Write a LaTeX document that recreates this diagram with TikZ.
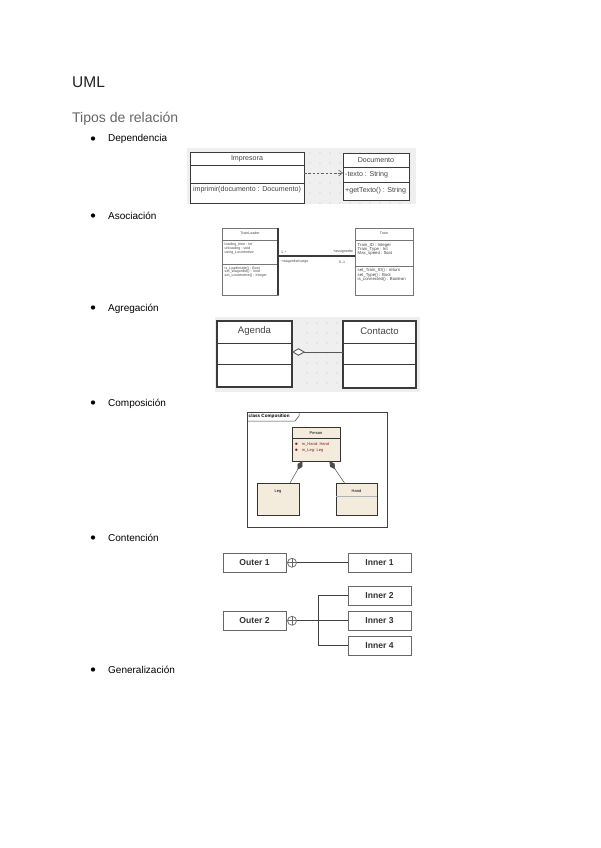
\documentclass[tikz,border=0pt]{standalone}
\usepackage{fontspec}
\setmainfont{Liberation Sans}
\usetikzlibrary{arrows.meta,calc,shadows}
\definecolor{titlec}{HTML}{222222}
\definecolor{subc}{HTML}{666666}
\definecolor{gridbg}{HTML}{EFEFEF}
\definecolor{dotc}{HTML}{C4C4C4}
\definecolor{umlc}{HTML}{3A3A3A}
\definecolor{txtc}{HTML}{444444}
\definecolor{beige}{HTML}{F3ECDD}
\definecolor{redt}{HTML}{8B1A1A}
\definecolor{contc}{HTML}{666666}
\tikzset{
  fsz/.style={font=\fontsize{#1}{#1}\selectfont},
  bulletdot/.style={circle,fill=black,inner sep=0pt,minimum size=4.3pt},
  itemtext/.style={anchor=base west,inner sep=0pt,fsz=10},
  box/.style={draw,anchor=north west,inner sep=0pt,outer sep=0pt},
  depbox/.style={box,draw=umlc,line width=0.8pt,fill=white},
  deptext/.style={inner sep=0pt,text=txtc,fsz=7.1},
  asbox/.style={box,draw=umlc!70,line width=0.5pt,fill=white},
  astext/.style={inner sep=0pt,text=txtc,fsz=3.6,align=left},
  agbox/.style={box,draw=umlc,line width=1.2pt,fill=white,
     general shadow={fill=black!25,shadow xshift=1pt,shadow yshift=-1pt}},
  agtext/.style={inner sep=0pt,text=txtc,fsz=9.6},
  cbox/.style={box,draw=black!80,line width=0.5pt,fill=beige,
     general shadow={fill=black!30,shadow xshift=1.2pt,shadow yshift=-1.2pt}},
  ctext/.style={inner sep=0pt,fsz=4},
  ctbox/.style={box,draw=contc,line width=0.8pt,fill=white,minimum width=63pt,minimum height=19.5pt,
     font=\fontsize{8.6}{9}\selectfont\bfseries,text=black!80},
  pluscirc/.style={circle,draw=contc,line width=0.7pt,fill=white,inner sep=0pt,minimum size=9pt,outer sep=0pt},
  ctline/.style={draw=black!75,line width=0.8pt},
}
\begin{document}
\begin{tikzpicture}[x=1pt,y=-1pt]
\useasboundingbox (0,0) rectangle (600,848);
\fill[white] (0,0) rectangle (600,848);

% headings
\node[anchor=base west,inner sep=0pt,text=titlec,fsz=15.5] (uml) at (72,88) {UML};
\node[anchor=base west,inner sep=0pt,text=subc,fsz=14] (tipos) at (72,123) {Tipos de relación};

% bullet items
\node[bulletdot] (b1) at (93,138.5) {};
\node[itemtext] (t1) at (108,142) {Dependencia};
\node[bulletdot] (b2) at (93,215.5) {};
\node[itemtext] (t2) at (108,219) {Asociación};
\node[bulletdot] (b3) at (93,307.5) {};
\node[itemtext] (t3) at (108,311) {Agregación};
\node[bulletdot] (b4) at (93,402.5) {};
\node[itemtext] (t4) at (108,406.5) {Composición};
\node[bulletdot] (b5) at (93,537.5) {};
\node[itemtext] (t5) at (108,541) {Contención};
\node[bulletdot] (b6) at (93,669.5) {};
\node[itemtext] (t6) at (108,673) {Generalización};

% ---------------- Dependencia ----------------
\fill[gridbg] (187,148) rectangle (416,204);
\foreach \x in {310,320,...,410} \foreach \y in {153,163,...,203} \fill[dotc] (\x,\y) circle (0.55);
\node[depbox,minimum width=114pt,minimum height=51pt] (imp) at (190,152) {};
\draw[umlc,line width=0.6pt] ([yshift=-13pt]imp.north west) -- ([yshift=-13pt]imp.north east);
\draw[umlc,line width=0.6pt] ([yshift=-31pt]imp.north west) -- ([yshift=-31pt]imp.north east);
\node[deptext] (impn) at ([yshift=-6.5pt]imp.north) {Impresora};
\node[deptext] (impm) at ([yshift=-38pt]imp.north) {imprimir(documento : Documento)};
\node[depbox,minimum width=66pt,minimum height=47pt,line width=1pt] (doc) at (343,153) {};
\draw[umlc,line width=0.6pt] ([yshift=-14pt]doc.north west) -- ([yshift=-14pt]doc.north east);
\draw[umlc,line width=0.6pt] ([yshift=-29pt]doc.north west) -- ([yshift=-29pt]doc.north east);
\node[deptext] (docn) at ([yshift=-7pt]doc.north) {Documento};
\node[deptext,anchor=west] (doca) at ([xshift=2pt,yshift=-21.5pt]doc.north west) {-texto : String};
\node[deptext,anchor=west] (docm) at ([xshift=2pt,yshift=-37.5pt]doc.north west) {+getTexto() : String};
\draw[umlc!80,dashed,dash pattern=on 2.5pt off 1.8pt,line width=0.6pt,-{Straight Barb[length=4pt,width=6pt]}]
  ([yshift=4.5pt]imp.east) -- ([yshift=4.5pt]imp.east -| doc.west);

% ---------------- Asociación ----------------
\node[asbox,minimum width=56pt,minimum height=67pt] (tl) at (222,228) {};
\draw[umlc!70,line width=0.5pt] ([yshift=-12pt]tl.north west) -- ([yshift=-12pt]tl.north east);
\draw[umlc!70,line width=0.5pt] ([yshift=-36pt]tl.north west) -- ([yshift=-36pt]tl.north east);
\draw[umlc,line width=1.4pt] (tl.north east) -- (tl.south east);
\node[astext] (tln) at ([yshift=-5.5pt]tl.north) {TrainLoader};
\node[astext,anchor=north west] (tla) at ([xshift=2.5pt,yshift=-15pt]tl.north west) {loading\_time : Int\\unloading : void\\using\_Locomotive};
\node[astext,anchor=north west] (tlm) at ([xshift=2.5pt,yshift=-38.5pt]tl.north west) {is\_Loadinside() : Bool\\set\_Wagonlist() : Void\\set\_Locomotive() : Integer};
\node[asbox,minimum width=58pt,minimum height=67pt] (tr) at (355,228) {};
\draw[umlc!70,line width=0.5pt] ([yshift=-12pt]tr.north west) -- ([yshift=-12pt]tr.north east);
\draw[umlc!70,line width=0.5pt] ([yshift=-38pt]tr.north west) -- ([yshift=-38pt]tr.north east);
\node[astext] (trn) at ([yshift=-5.5pt]tr.north) {Train};
\node[astext,fsz=4.3,anchor=north west] (tra) at ([xshift=2.5pt,yshift=-15pt]tr.north west) {Train\_ID : Integer\\Train\_Type : Int\\Max\_speed : float};
\node[astext,fsz=4.3,anchor=north west] (trm) at ([xshift=2.5pt,yshift=-40.5pt]tr.north west) {set\_Train\_ID() : return\\set\_Type() : Bool\\is\_connected() : Boolean};
\draw[umlc,line width=1.4pt] ([yshift=-28pt]tl.north east) -- ([yshift=-28pt]tl.north east -| tr.west);
\node[astext,anchor=west] (l1) at (281,252) {1..*};
\node[astext,anchor=east] (l2) at (353,252) {+assignedto};
\node[astext,anchor=west] (l3) at (281,262) {+wagonlist/cargo};
\node[astext,anchor=west] (l4) at (339,262) {0..1};

% ---------------- Agregación ----------------
\fill[gridbg] (215,317) rectangle (420,392);
\foreach \x in {307,317,...,337} \foreach \y in {323,333,...,383} \fill[dotc] (\x,\y) circle (0.6);
\node[agbox,minimum width=75pt,minimum height=66pt] (ag) at (217,321) {};
\draw[umlc,line width=0.9pt] ([yshift=-22pt]ag.north west) -- ([yshift=-22pt]ag.north east);
\draw[umlc,line width=0.9pt] ([yshift=-43pt]ag.north west) -- ([yshift=-43pt]ag.north east);
\node[agtext] (agn) at ([yshift=-10.5pt]ag.north) {Agenda};
\node[agbox,minimum width=73pt,minimum height=67pt] (co) at (343,321) {};
\draw[umlc,line width=0.9pt] ([yshift=-22pt]co.north west) -- ([yshift=-22pt]co.north east);
\draw[umlc,line width=0.9pt] ([yshift=-43pt]co.north west) -- ([yshift=-43pt]co.north east);
\node[agtext] (con) at ([yshift=-10.5pt]co.north) {Contacto};
\draw[umlc!85,line width=1pt,-{Diamond[open,length=13pt,width=7.5pt,line width=0.9pt,fill=white]}]
  ([yshift=-31pt]co.north west) -- ([yshift=-31pt]co.north west -| ag.east);

% ---------------- Composición ----------------
\node[box,draw=black!75,line width=0.6pt,minimum width=140pt,minimum height=115pt] (frame) at (247,412) {};
\draw[black!75,line width=0.5pt] ([yshift=-9pt]frame.north west) -- ++(48,0) -- ++(4,-5) -- ++(0,-4);
\node[inner sep=0pt,anchor=west,font=\fontsize{4.6}{5}\selectfont\bfseries] (ftab) at ([xshift=1.5pt,yshift=-4.6pt]frame.north west) {class Composition};
\node[cbox,minimum width=48pt,minimum height=34pt] (per) at (292,427) {};
\draw[black!80,line width=0.5pt] ([yshift=-11.5pt]per.north west) -- ([yshift=-11.5pt]per.north east);
\node[ctext] (pern) at ([yshift=-6pt]per.north) {Person};
\node[ctext,text=redt,anchor=west] (pera) at ([xshift=2.5pt,yshift=-17pt]per.north west) {\fontsize{3}{3}\selectfont$\bullet$\hspace{3.5pt}\fontsize{4}{4}\selectfont m\_Hand: Hand};
\node[ctext,text=redt,anchor=west] (perb) at ([xshift=2.5pt,yshift=-24pt]per.north west) {\fontsize{3}{3}\selectfont$\bullet$\hspace{3.5pt}\fontsize{4}{4}\selectfont m\_Leg: Leg};
\node[cbox,minimum width=42pt,minimum height=32pt] (leg) at (257,483) {};
\node[ctext] (legn) at ([yshift=-9pt]leg.north) {Leg};
\node[cbox,minimum width=41pt,minimum height=32pt] (hand) at (336,483) {};
\draw[black!30,line width=0.4pt] ([yshift=-13pt]hand.north west) -- ([yshift=-13pt]hand.north east);
\node[ctext] (handn) at ([yshift=-8pt]hand.north) {Hand};
\draw[black!70,line width=0.5pt,-{Diamond[length=10pt,width=5.5pt]}] ([xshift=12pt]leg.north) -- ([xshift=-13.5pt]per.south);
\draw[black!70,line width=0.5pt,-{Diamond[length=10pt,width=5.5pt]}] ([xshift=-12pt]hand.north) -- ([xshift=13.5pt]per.south);

% ---------------- Contención ----------------
\node[ctbox] (out1) at (223,553) {Outer 1};
\node[ctbox] (in1) at (348,553) {Inner 1};
\node[ctbox] (in2) at (348,586) {Inner 2};
\node[ctbox] (out2) at (223,611) {Outer 2};
\node[ctbox] (in3) at (348,611) {Inner 3};
\node[ctbox] (in4) at (348,636) {Inner 4};
\node[pluscirc,anchor=west] (c1) at ([xshift=1.5pt]out1.east) {};
\draw[contc,line width=0.6pt] (c1.north) -- (c1.south) (c1.west) -- (c1.east);
\node[pluscirc,anchor=west] (c2) at ([xshift=1.5pt]out2.east) {};
\draw[contc,line width=0.6pt] (c2.north) -- (c2.south) (c2.west) -- (c2.east);
\draw[ctline] (c1.east) -- (c1.east -| in1.west);
\coordinate (j) at ([xshift=22pt]c2.east);
\draw[ctline] (c2.east) -- (j);
\draw[ctline] (in2.west) -- (in2.west -| j) -- (in4.west -| j) -- (in4.west);
\draw[ctline] (j) -- (in3.west);
\end{tikzpicture}
\end{document}
